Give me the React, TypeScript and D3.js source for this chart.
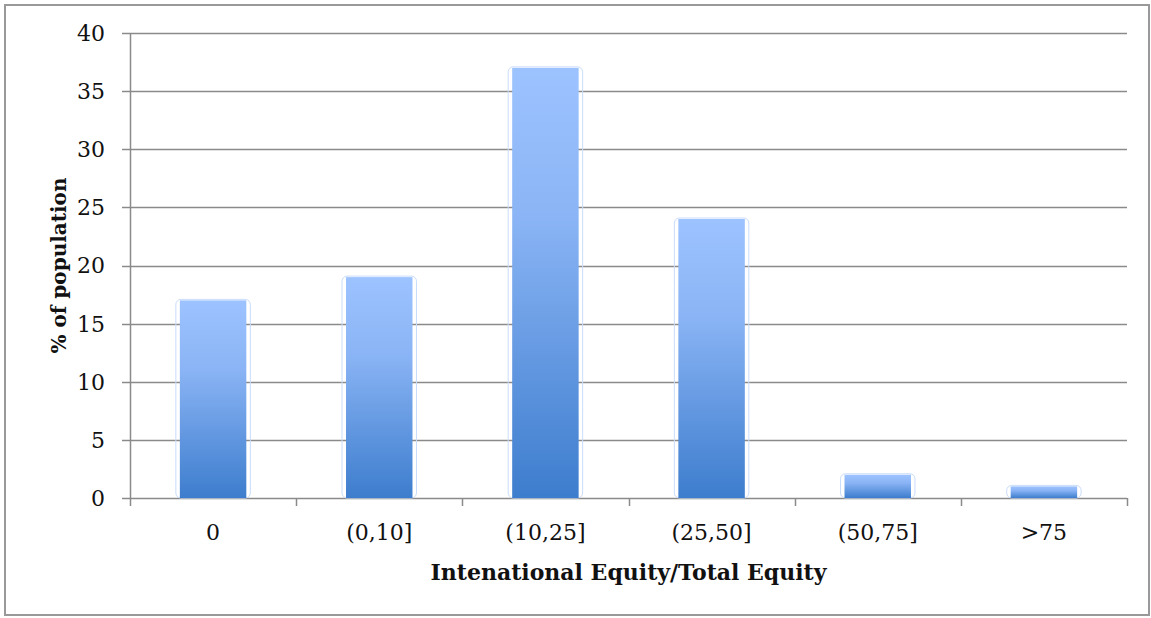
import React, { useEffect, useRef } from 'react';
import * as d3 from 'd3';

const categories = ['0', '(0,10]', '(10,25]', '(25,50]', '(50,75]', '>75'];
const values = [17, 19, 37, 24, 2, 1];
const yTicks = [0, 5, 10, 15, 20, 25, 30, 35, 40];

const App: React.FC = () => {
  const svgRef = useRef<SVGSVGElement>(null);

  useEffect(() => {
    if (!svgRef.current) return;
    d3.select(svgRef.current).selectAll('*').remove();

    const width = 1151;
    const height = 618;
    const margin = { top: 33, right: 24, bottom: 120, left: 130 };
    const font = "'DejaVu Serif', 'Liberation Serif', serif";

    const svg = d3.select(svgRef.current)
      .attr('width', width)
      .attr('height', height)
      .style('display', 'block');

    // outer frame
    svg.append('rect')
      .attr('x', 5).attr('y', 5)
      .attr('width', width - 7).attr('height', height - 8)
      .attr('fill', 'white')
      .attr('stroke', '#999')
      .attr('stroke-width', 2);

    const defs = svg.append('defs');
    const grad = defs.append('linearGradient')
      .attr('id', 'barGrad')
      .attr('x1', 0).attr('y1', 0).attr('x2', 0).attr('y2', 1);
    grad.append('stop').attr('offset', '0%').attr('stop-color', '#9dc3ff');
    grad.append('stop').attr('offset', '35%').attr('stop-color', '#8ab4f5');
    grad.append('stop').attr('offset', '100%').attr('stop-color', '#3d7dcd');

    const x = d3.scaleBand()
      .domain(categories)
      .range([margin.left, width - margin.right])
      .paddingInner(0.6)
      .paddingOuter(0.3);

    const y = d3.scaleLinear()
      .domain([0, 40])
      .range([height - margin.bottom, margin.top]);

    const g = svg.append('g');

    // gridlines
    g.append('g')
      .selectAll('line')
      .data(yTicks)
      .enter()
      .append('line')
      .attr('x1', margin.left - 8)
      .attr('x2', width - margin.right)
      .attr('y1', d => Math.round(y(d)) + 0.5)
      .attr('y2', d => Math.round(y(d)) + 0.5)
      .attr('stroke', '#8a8a8a')
      .attr('stroke-width', 1.5);

    // y tick labels
    g.append('g')
      .selectAll('text')
      .data(yTicks)
      .enter()
      .append('text')
      .attr('x', margin.left - 25)
      .attr('y', d => y(d))
      .attr('dy', '0.36em')
      .attr('text-anchor', 'end')
      .style('font-family', font)
      .style('font-size', '22px')
      .attr('fill', '#111')
      .text(d => d);

    // y axis line
    g.append('line')
      .attr('x1', margin.left + 0.5).attr('x2', margin.left + 0.5)
      .attr('y1', y(40)).attr('y2', y(0) + 8)
      .attr('stroke', '#8a8a8a')
      .attr('stroke-width', 1.5);

    // x category ticks
    const bounds = d3.range(categories.length + 1).map(i => margin.left + i * (width - margin.right - margin.left) / categories.length);
    g.append('g')
      .selectAll('line')
      .data(bounds.slice(1))
      .enter()
      .append('line')
      .attr('x1', d => Math.round(d) + 0.5)
      .attr('x2', d => Math.round(d) + 0.5)
      .attr('y1', y(0))
      .attr('y2', y(0) + 8)
      .attr('stroke', '#8a8a8a')
      .attr('stroke-width', 1.5);

    // bars: faint glow outline then gradient fill
    const bars = g.append('g')
      .selectAll('g')
      .data(values)
      .enter()
      .append('g');

    bars.append('rect')
      .attr('x', (d, i) => x(categories[i])! - 4)
      .attr('y', d => y(d) - 1)
      .attr('width', x.bandwidth() + 8)
      .attr('height', d => y(0) - y(d) + 1)
      .attr('rx', 5)
      .attr('fill', 'none')
      .attr('stroke', '#c9dcfb')
      .attr('stroke-width', 1);

    bars.append('rect')
      .attr('x', (d, i) => x(categories[i])!)
      .attr('y', d => y(d))
      .attr('width', x.bandwidth())
      .attr('height', d => y(0) - y(d))
      .attr('fill', 'url(#barGrad)');

    // x labels
    g.append('g')
      .selectAll('text')
      .data(categories)
      .enter()
      .append('text')
      .attr('x', d => x(d)! + x.bandwidth() / 2)
      .attr('y', y(0) + 42)
      .attr('text-anchor', 'middle')
      .style('font-family', font)
      .style('font-size', '22px')
      .attr('fill', '#111')
      .text(d => d);

    // axis titles
    svg.append('text')
      .attr('x', (margin.left + width - margin.right) / 2)
      .attr('y', 580)
      .attr('text-anchor', 'middle')
      .style('font-family', font)
      .style('font-size', '22px')
      .style('font-weight', 'bold')
      .attr('fill', '#111')
      .text('Intenational Equity/Total Equity');

    svg.append('text')
      .attr('transform', `translate(66,${(margin.top + height - margin.bottom) / 2}) rotate(-90)`)
      .attr('text-anchor', 'middle')
      .style('font-family', font)
      .style('font-size', '20px')
      .style('font-weight', 'bold')
      .attr('fill', '#111')
      .text('% of population');
  }, []);

  return (
    <div style={{ position: 'absolute', left: 0, top: 0 }}>
      <svg ref={svgRef}></svg>
    </div>
  );
};

export default App;
